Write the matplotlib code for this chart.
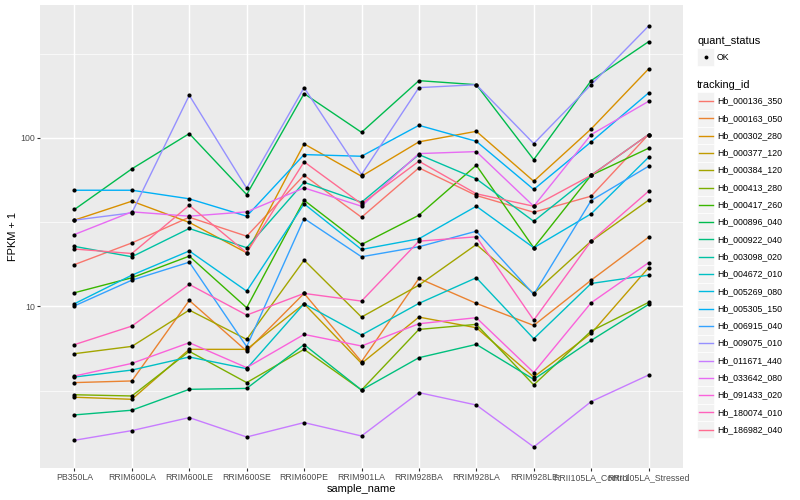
import matplotlib
matplotlib.use("Agg")
import matplotlib.pyplot as plt
from matplotlib.patches import Rectangle
from matplotlib.ticker import FixedLocator, NullFormatter
import numpy as np

plt.rcParams['font.family'] = ['Liberation Sans', 'DejaVu Sans']

samples = ["PB350LA", "RRIM600LA", "RRIM600LE", "RRIM600SE", "RRIM600PE",
           "RRIM901LA", "RRIM928BA", "RRIM928LA", "RRIM928LE",
           "RRII105LA_Control", "RRII105LA_Stressed"]

tracking_ids = ["Hb_000136_350", "Hb_000163_050", "Hb_000302_280", "Hb_000377_120",
                "Hb_000384_120", "Hb_000413_280", "Hb_000417_260", "Hb_000896_040",
                "Hb_000922_040", "Hb_003098_020", "Hb_004672_010", "Hb_005269_080",
                "Hb_005305_150", "Hb_006915_040", "Hb_009075_010", "Hb_011671_440",
                "Hb_033642_080", "Hb_091433_020", "Hb_180074_010", "Hb_186982_040"]

colors = ["#F8766D", "#EA8331", "#D89000", "#C09B00", "#A3A500", "#7CAE00", "#39B600",
          "#00BB4E", "#00BF7D", "#00C1A3", "#00BFC4", "#00BAE0", "#00B0F6", "#35A2FF",
          "#9590FF", "#C77CFF", "#E76BF3", "#FA62DB", "#FF62BC", "#FF6C91"]

# FPKM + 1 per sample (order of `samples`)
hb_000136_350 = [17.7, 23.8, 33.8, 26.1, 60.0, 33.8, 66.4, 45.5, 36.2, 45.1, 104.6]
hb_000163_050 = [3.53, 3.61, 10.85, 5.43, 11.94, 4.70, 14.65, 10.42, 7.71, 14.31, 25.74]
hb_000302_280 = [32.5, 42.1, 31.5, 20.8, 92.1, 59.2, 94.7, 109.4, 55.3, 113.0, 256.5]
hb_000377_120 = [2.89, 2.81, 5.56, 5.56, 10.37, 4.59, 8.64, 7.47, 3.81, 6.91, 16.96]
hb_000384_120 = [5.24, 5.79, 9.51, 6.37, 18.81, 8.64, 13.37, 23.30, 11.94, 24.38, 42.67]
hb_000413_280 = [2.99, 2.94, 5.41, 3.53, 5.56, 3.19, 7.30, 7.82, 3.42, 7.14, 10.56]
hb_000417_260 = [12.05, 14.79, 19.87, 9.82, 42.67, 23.30, 34.76, 68.8, 22.28, 60.0, 86.8]
hb_000896_040 = [37.6, 65.5, 106.0, 46.1, 183.1, 107.9, 218.6, 206.9, 74.3, 218.6, 372.2]
hb_000922_040 = [2.27, 2.42, 3.22, 3.26, 5.93, 3.19, 4.96, 5.95, 3.69, 6.28, 10.27]
hb_003098_020 = [22.7, 19.7, 29.0, 22.3, 54.5, 41.5, 79.6, 57.1, 32.0, 60.0, 104.6]
hb_004672_010 = [3.81, 4.19, 5.01, 4.27, 10.37, 6.76, 10.42, 14.79, 6.43, 13.68, 15.32]
hb_005269_080 = [10.37, 15.32, 21.33, 12.32, 40.61, 21.77, 25.19, 39.30, 22.28, 35.43, 76.7]
hb_005305_150 = [48.9, 48.9, 43.5, 34.3, 79.6, 77.8, 118.7, 95.4, 49.4, 94.7, 184.8]
hb_006915_040 = [10.07, 14.31, 18.30, 5.77, 33.23, 19.70, 22.59, 27.94, 11.78, 42.49, 67.87]
hb_009075_010 = [32.5, 35.9, 178.9, 50.3, 198.7, 60.6, 198.7, 206.9, 92.5, 206.9, 461.0]
hb_011671_440 = [1.605, 1.832, 2.188, 1.679, 2.044, 1.702, 3.078, 2.598, 1.465, 2.723, 3.914]
hb_033642_080 = [26.7, 36.4, 34.3, 36.4, 50.5, 39.3, 80.7, 82.9, 39.3, 104.6, 164.8]
hb_091433_020 = [3.86, 4.59, 6.09, 4.33, 6.82, 5.82, 7.89, 8.57, 4.05, 10.51, 18.16]
hb_180074_010 = [5.93, 7.64, 13.50, 8.88, 11.94, 10.75, 24.38, 25.88, 8.29, 24.38, 48.24]
hb_186982_040 = [21.9, 20.6, 39.8, 20.8, 72.1, 40.6, 72.7, 46.6, 39.3, 60.0, 104.6]

series = [hb_000136_350, hb_000163_050, hb_000302_280, hb_000377_120, hb_000384_120,
          hb_000413_280, hb_000417_260, hb_000896_040, hb_000922_040, hb_003098_020,
          hb_004672_010, hb_005269_080, hb_005305_150, hb_006915_040, hb_009075_010,
          hb_011671_440, hb_033642_080, hb_091433_020, hb_180074_010, hb_186982_040]

W, H = 800, 500
fig = plt.figure(figsize=(8, 5), dpi=100)
fig.patch.set_facecolor('white')

pl, pr, pt, pb = 40, 683, 5, 468
ax = fig.add_axes([pl / W, 1 - pb / H, (pr - pl) / W, (pb - pt) / H])
ax.set_facecolor('#EBEBEB')
for s in ax.spines.values():
    s.set_visible(False)
ax.set_yscale('log')

x = np.arange(len(samples))
for vals, c in zip(series, colors):
    ax.plot(x, vals, color=c, lw=1.0, zorder=2, solid_capstyle='butt')
for vals in series:
    ax.scatter(x, vals, s=9, color='black', zorder=3, linewidths=0)

allv = np.concatenate([np.asarray(v) for v in series])
lo, hi = np.log10(allv.min()), np.log10(allv.max())
rng = hi - lo
ax.set_ylim(10 ** (lo - 0.05 * rng), 10 ** (hi + 0.05 * rng))
ax.set_xlim(-0.6, len(samples) - 0.4)

ax.set_xticks(x)
ax.set_xticklabels(samples)
ax.yaxis.set_major_locator(FixedLocator([10, 100]))
ax.yaxis.set_major_formatter(plt.FixedFormatter(['10', '100']))
ax.yaxis.set_minor_locator(FixedLocator([10 ** 0.5, 10 ** 1.5, 10 ** 2.5]))
ax.yaxis.set_minor_formatter(NullFormatter())
ax.xaxis.set_minor_locator(FixedLocator([]))

ax.set_axisbelow(True)
ax.grid(which='major', color='white', lw=1.05)
ax.grid(which='minor', axis='y', color='white', lw=0.5)
ax.tick_params(which='major', length=2.0, width=0.8, color='#333333',
               labelcolor='#4D4D4D', labelsize=6.3, pad=1.6)
ax.tick_params(which='minor', length=0)

# overlay in pixel coordinates for labels & legend
ov = fig.add_axes([0, 0, 1, 1], zorder=5)
ov.set_xlim(0, W)
ov.set_ylim(H, 0)
ov.axis('off')
ov.patch.set_alpha(0)

ov.text((pl + pr) / 2, 488.5, 'sample_name', ha='center', va='center', size=7.9, color='black')
ov.text(13.5, (pt + pb) / 2, 'FPKM + 1', ha='center', va='center', size=7.9,
        rotation=90, color='black')

lx = 697
key = 17.3
ov.text(lx, 40.7, 'quant_status', ha='left', va='center', size=7.9, color='black')
ov.add_patch(Rectangle((lx, 57 - key / 2), key, key, facecolor='#F2F2F2',
                       edgecolor='white', lw=0.5))
ov.plot([lx + key / 2], [57], 'o', color='black', ms=2.8, mew=0)
ov.text(lx + key + 2.5, 57, 'OK', ha='left', va='center', size=6.3, color='black')

ov.text(lx, 84.5, 'tracking_id', ha='left', va='center', size=7.9, color='black')
for i, (tid, c) in enumerate(zip(tracking_ids, colors)):
    yc = 101 + i * key
    ov.add_patch(Rectangle((lx, yc - key / 2), key, key, facecolor='#F2F2F2',
                           edgecolor='white', lw=0.5))
    ov.plot([lx + 1.7, lx + key - 1.7], [yc, yc], color=c, lw=1.0)
    ov.text(lx + key + 2.5, yc, tid, ha='left', va='center', size=6.3, color='black')

fig.savefig('out.png', dpi=100)
